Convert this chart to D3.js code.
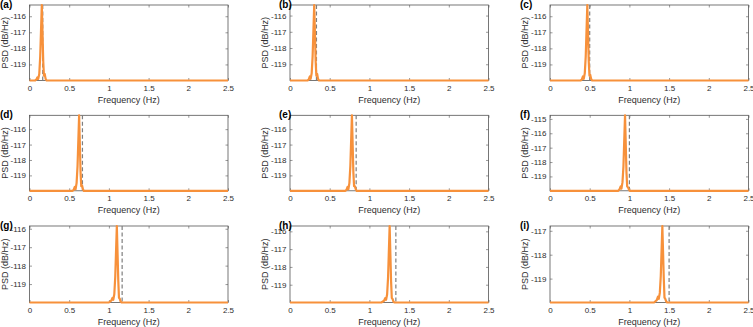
<!DOCTYPE html>
<html>
<head>
<meta charset="utf-8">
<script src="https://cdn.jsdelivr.net/npm/d3@7"></script>
<style>
  body { margin: 0; background: #fff; }
  svg { font-family: "Liberation Sans", Arial, Helvetica, sans-serif; }
</style>
</head>
<body>
<script>
// ---- data ----
var panelLabels = ["(a)", "(b)", "(c)", "(d)", "(e)", "(f)", "(g)", "(h)", "(i)"];
var xTicks = [0, 0.5, 1, 1.5, 2, 2.5];
var xTickLabels = ["0", "0.5", "1", "1.5", "2", "2.5"];

// dashed reference frequency of each panel (Hz)
var refFreq = [0.1667, 0.3333, 0.5, 0.6667, 0.8333, 1.0, 1.1667, 1.3333, 1.5];

// y range (dB/Hz) of each panel
var yMin = [-120, -120, -120, -120, -120, -120, -120, -120, -120];
var yMax = [-115.3, -115.35, -115.3, -115.1, -115.1, -114.75, -115.85, -115.7, -116.8];

var yTicks = [
  [-116, -117, -118, -119], [-116, -117, -118, -119], [-116, -117, -118, -119],
  [-116, -117, -118, -119], [-116, -117, -118, -119], [-115, -116, -117, -118, -119],
  [-116, -117, -118, -119], [-116, -117, -118, -119], [-117, -118, -119]
];

// PSD curves
var freqA = [0, 0.070, 0.085, 0.100, 0.110, 0.123, 0.135, 0.155, 0.173, 0.182, 0.192, 0.203, 0.215, 2.5];
var psdA  = [-120, -120, -119.95, -119.8, -119.9, -119.6, -118.5, -115.3, -118.8, -119.7, -119.6, -119.9, -120, -120];

var freqB = [0, 0.220, 0.235, 0.250, 0.260, 0.273, 0.285, 0.305, 0.323, 0.332, 0.342, 0.353, 0.365, 2.5];
var psdB  = [-120, -120, -119.95, -119.75, -119.9, -119.55, -118.5, -115.35, -118.8, -119.7, -119.6, -119.9, -120, -120];

var freqC = [0, 0.385, 0.400, 0.415, 0.425, 0.438, 0.450, 0.470, 0.488, 0.497, 0.507, 0.518, 0.530, 2.5];
var psdC  = [-120, -120, -119.95, -119.75, -119.9, -119.55, -118.5, -115.3, -118.8, -119.7, -119.65, -119.9, -120, -120];

var freqD = [0, 0.540, 0.555, 0.570, 0.580, 0.593, 0.605, 0.625, 0.643, 0.652, 0.662, 0.673, 0.685, 2.5];
var psdD  = [-120, -120, -119.95, -119.75, -119.9, -119.5, -118.4, -115.1, -118.8, -119.7, -119.65, -119.9, -120, -120];

var freqE = [0, 0.695, 0.710, 0.725, 0.735, 0.748, 0.760, 0.780, 0.798, 0.807, 0.817, 0.828, 0.840, 2.5];
var psdE  = [-120, -120, -119.95, -119.75, -119.9, -119.5, -118.4, -115.1, -118.8, -119.7, -119.7, -119.9, -120, -120];

var freqF = [0, 0.860, 0.875, 0.890, 0.900, 0.913, 0.925, 0.945, 0.963, 0.972, 0.982, 0.993, 1.005, 2.5];
var psdF  = [-120, -120, -119.9, -119.7, -119.85, -119.4, -118.3, -114.75, -118.7, -119.7, -119.75, -119.9, -120, -120];

var freqG = [0, 1.000, 1.030, 1.045, 1.055, 1.068, 1.080, 1.100, 1.118, 1.127, 1.137, 1.148, 1.160, 2.5];
var psdG  = [-120, -120, -119.9, -119.75, -119.85, -119.55, -118.6, -115.85, -118.8, -119.75, -119.8, -119.95, -120, -120];

var freqH = [0, 1.150, 1.185, 1.200, 1.210, 1.223, 1.235, 1.255, 1.273, 1.282, 1.292, 1.303, 1.315, 2.5];
var psdH  = [-120, -120, -119.9, -119.75, -119.85, -119.55, -118.6, -115.7, -118.8, -119.75, -119.8, -119.95, -120, -120];

var freqI = [0, 1.310, 1.345, 1.360, 1.370, 1.383, 1.395, 1.415, 1.433, 1.442, 1.452, 1.463, 1.475, 2.5];
var psdI  = [-120, -120, -119.9, -119.75, -119.85, -119.6, -118.9, -116.8, -119.0, -119.8, -119.85, -119.95, -120, -120];

var freqs = [freqA, freqB, freqC, freqD, freqE, freqF, freqG, freqH, freqI];
var psds  = [psdA, psdB, psdC, psdD, psdE, psdF, psdG, psdH, psdI];

// ---- layout ----
var W = 753, H = 327;
var colLeft = [29.5, 290, 550], axW = 198.5;
var rowTop = [5, 115.3, 226], axH = [75.5, 75.5, 76.5];
var labelX = [0, 279, 520];
var orange = "#f7913b", axisColor = "#555555", textColor = "#2e2e2e";

var svg = d3.select("body").append("svg")
    .attr("width", W)
    .attr("height", H);

for (var i = 0; i < 9; i++) {
  var r = Math.floor(i / 3), c = i % 3;
  var h = axH[r];

  var x = d3.scaleLinear().domain([0, 2.5]).range([0, axW]);
  var y = d3.scaleLinear().domain([yMin[i], yMax[i]]).range([h, 0]);

  var g = svg.append("g")
      .attr("transform", "translate(" + colLeft[c] + "," + rowTop[r] + ")");

  // axes with inward ticks on all sides
  var bx = g.append("g")
      .attr("transform", "translate(0," + h + ")")
      .call(d3.axisBottom(x).tickValues(xTicks)
              .tickFormat(function(d, k) { return xTickLabels[k]; })
              .tickSizeInner(-2.5).tickSizeOuter(0).tickPadding(5));
  var ly = g.append("g")
      .call(d3.axisLeft(y).tickValues(yTicks[i])
              .tickFormat(function(d) { return "-" + Math.abs(d); })
              .tickSizeInner(-2.5).tickSizeOuter(0).tickPadding(3.5));
  var tx = g.append("g")
      .call(d3.axisTop(x).tickValues(xTicks).tickFormat("")
              .tickSizeInner(-2.5).tickSizeOuter(0));
  var ry = g.append("g")
      .attr("transform", "translate(" + axW + ",0)")
      .call(d3.axisRight(y).tickValues(yTicks[i]).tickFormat("")
              .tickSizeInner(-2.5).tickSizeOuter(0));

  [bx, ly, tx, ry].forEach(function(a) {
    a.select(".domain").remove();
    a.selectAll(".tick line").attr("stroke", axisColor).attr("stroke-width", 0.6);
    a.selectAll(".tick text").attr("fill", textColor).style("font-size", "8px");
  });

  g.append("rect")
      .attr("width", axW)
      .attr("height", h)
      .attr("fill", "none")
      .attr("stroke", axisColor)
      .attr("stroke-width", 0.8);

  // dashed reference line
  g.append("line")
      .attr("x1", x(refFreq[i])).attr("x2", x(refFreq[i]))
      .attr("y1", 0).attr("y2", h)
      .attr("stroke", "#7f7f7f")
      .attr("stroke-width", 1.2)
      .attr("stroke-dasharray", "4,2.5");

  // PSD curve
  var pts = freqs[i].map(function(f, k) { return [f, psds[i][k]]; });
  var line = d3.line()
      .x(function(d) { return x(d[0]); })
      .y(function(d) { return y(d[1]); });

  g.append("path")
      .datum(pts)
      .attr("fill", "none")
      .attr("stroke", orange)
      .attr("stroke-width", 2.2)
      .attr("stroke-linejoin", "round")
      .attr("d", line);

  // axis titles
  g.append("text")
      .attr("x", axW / 2)
      .attr("y", h + 22)
      .attr("text-anchor", "middle")
      .attr("fill", textColor)
      .style("font-size", "9px")
      .text("Frequency (Hz)");

  g.append("text")
      .attr("transform", "translate(-25," + (h / 2) + ") rotate(-90)")
      .attr("text-anchor", "middle")
      .attr("dy", "0.35em")
      .attr("fill", textColor)
      .style("font-size", "9px")
      .text("PSD (dB/Hz)");

  svg.append("text")
      .attr("x", labelX[c])
      .attr("y", rowTop[r] + 3)
      .attr("fill", "#000")
      .style("font-size", "10px")
      .style("font-weight", "bold")
      .text(panelLabels[i]);
}
</script>
</body>
</html>
